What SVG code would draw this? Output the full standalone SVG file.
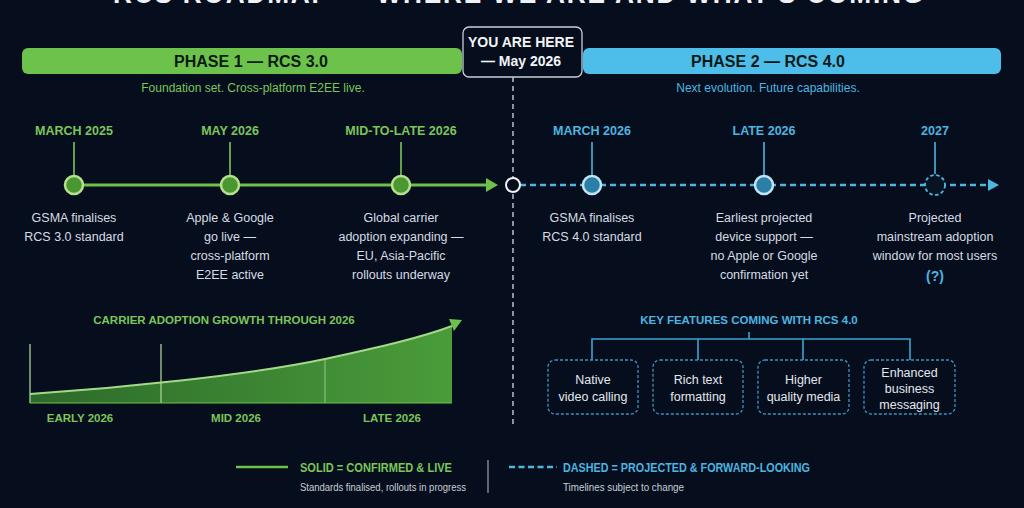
<svg xmlns="http://www.w3.org/2000/svg" width="1024" height="508" viewBox="0 0 1024 508">
  <defs>
    <linearGradient id="areaGrad" x1="0" y1="0" x2="1" y2="0">
      <stop offset="0" stop-color="#2c6a2a"/>
      <stop offset="1" stop-color="#4a9c3a"/>
    </linearGradient>
    <style>
      .title{font-family:"Liberation Sans",Arial,sans-serif;font-weight:bold;font-size:30px;fill:#eef2f6;letter-spacing:2px}
      .phase{font-family:"Liberation Sans",Arial,sans-serif;font-weight:bold;font-size:16px;fill:#0b1a14;text-anchor:middle}
      .sub{font-family:"Liberation Sans",Arial,sans-serif;font-size:12px;text-anchor:middle}
      .lbl{font-family:"Liberation Sans",Arial,sans-serif;font-weight:bold;font-size:12.5px;text-anchor:middle}
      .desc{font-family:"Liberation Sans",Arial,sans-serif;font-size:12.5px;fill:#d6dce3;text-anchor:middle}
      .here{font-family:"Liberation Sans",Arial,sans-serif;font-weight:bold;font-size:14px;fill:#f2f4f7;text-anchor:middle}
      .g{fill:#7cc55a}
      .b{fill:#4cb5e0}
      .small{font-family:"Liberation Sans",Arial,sans-serif;font-size:10px;fill:#c6ced7}
      .leg{font-family:"Liberation Sans",Arial,sans-serif;font-weight:bold;font-size:12px}
      .feat{font-family:"Liberation Sans",Arial,sans-serif;font-size:12.5px;fill:#e3e8ee;text-anchor:middle}
      .gnode{fill:#4a9630;stroke:#b5e08e;stroke-width:2.5}
      .bnode{fill:#2b7fa6;stroke:#bfe6f7;stroke-width:2.5}
      .gstem{stroke:#7cc55a;stroke-width:1.6}
      .bstem{stroke:#4cb5e0;stroke-width:1.6}
      .fbox{fill:none;stroke:#3a94bf;stroke-width:1.3;stroke-dasharray:3 2}
      .tree{stroke:#3fa3cf;stroke-width:1.6;fill:none}
    </style>
  </defs>

  <rect width="1024" height="508" fill="#060e1d"/>

  <!-- Title (cut off at top) -->
  <text class="title" x="113" y="3" textLength="812" lengthAdjust="spacingAndGlyphs">RCS ROADMAP — WHERE WE ARE AND WHAT'S COMING</text>

  <!-- Phase bars -->
  <g id="phase1">
    <rect x="22" y="48" width="440" height="26" rx="6" fill="#6dc24b"/>
    <text class="phase" x="251" y="67">PHASE 1 — RCS 3.0</text>
    <text class="sub g" x="253" y="92">Foundation set. Cross-platform E2EE live.</text>
  </g>
  <g id="phase2">
    <rect x="583" y="48" width="418" height="26" rx="6" fill="#4dbde9"/>
    <text class="phase" x="768" y="67">PHASE 2 — RCS 4.0</text>
    <text class="sub b" x="768" y="92">Next evolution. Future capabilities.</text>
  </g>

  <!-- Connectors -->
  <g id="connectors">
    <line x1="513" y1="77" x2="513" y2="428" stroke="#d8dde3" stroke-width="1.3" stroke-dasharray="5 4"/>
    <line x1="74" y1="185" x2="487" y2="185" stroke="#6dc24b" stroke-width="3"/>
    <polygon points="486,178 498,185 486,192" fill="#6dc24b"/>
    <line x1="520" y1="185" x2="989" y2="185" stroke="#4cb8e0" stroke-width="2.5" stroke-dasharray="6 4"/>
    <polygon points="988,179 999,185 988,191" fill="#4cb8e0"/>
    <line class="gstem" x1="74" y1="142" x2="74" y2="175"/>
    <line class="gstem" x1="230" y1="142" x2="230" y2="175"/>
    <line class="gstem" x1="401" y1="142" x2="401" y2="175"/>
    <line class="bstem" x1="592" y1="142" x2="592" y2="175"/>
    <line class="bstem" x1="764" y1="142" x2="764" y2="175"/>
    <line class="bstem" x1="935" y1="142" x2="935" y2="174"/>
    <path class="tree" d="M749,332 V339 M592,360 V339 H910 V360 M698,339 V360 M803,339 V360"/>
  </g>

  <!-- YOU ARE HERE -->
  <g id="you-are-here">
    <rect x="463" y="27" width="119" height="50" rx="6" fill="#060e1d" stroke="#c9cfd6" stroke-width="1.3"/>
    <text class="here" x="521" y="47">YOU ARE HERE</text>
    <text class="here" x="521" y="66">— May 2026</text>
    <circle cx="513" cy="185" r="7" fill="#060e1d" stroke="#f2f4f7" stroke-width="2"/>
  </g>

  <!-- Phase 1 milestones -->
  <g id="m-march-2025">
    <text class="lbl g" x="74" y="135">MARCH 2025</text>
    <circle class="gnode" cx="74" cy="185" r="9"/>
    <text class="desc" x="74" y="222">GSMA finalises</text>
    <text class="desc" x="74" y="241">RCS 3.0 standard</text>
  </g>
  <g id="m-may-2026">
    <text class="lbl g" x="230" y="135">MAY 2026</text>
    <circle class="gnode" cx="230" cy="185" r="9"/>
    <text class="desc" x="230" y="222">Apple &amp; Google</text>
    <text class="desc" x="230" y="241">go live —</text>
    <text class="desc" x="230" y="260">cross-platform</text>
    <text class="desc" x="230" y="279">E2EE active</text>
  </g>
  <g id="m-mid-late-2026">
    <text class="lbl g" x="401" y="135">MID-TO-LATE 2026</text>
    <circle class="gnode" cx="401" cy="185" r="9"/>
    <text class="desc" x="401" y="222">Global carrier</text>
    <text class="desc" x="401" y="241">adoption expanding —</text>
    <text class="desc" x="401" y="260">EU, Asia-Pacific</text>
    <text class="desc" x="401" y="279">rollouts underway</text>
  </g>

  <!-- Phase 2 milestones -->
  <g id="m-march-2026">
    <text class="lbl b" x="592" y="135">MARCH 2026</text>
    <circle class="bnode" cx="592" cy="185" r="9"/>
    <text class="desc" x="592" y="222">GSMA finalises</text>
    <text class="desc" x="592" y="241">RCS 4.0 standard</text>
  </g>
  <g id="m-late-2026">
    <text class="lbl b" x="764" y="135">LATE 2026</text>
    <circle class="bnode" cx="764" cy="185" r="9"/>
    <text class="desc" x="764" y="222">Earliest projected</text>
    <text class="desc" x="764" y="241">device support —</text>
    <text class="desc" x="764" y="260">no Apple or Google</text>
    <text class="desc" x="764" y="279">confirmation yet</text>
  </g>
  <g id="m-2027">
    <text class="lbl b" x="935" y="135">2027</text>
    <circle cx="935" cy="185" r="10" fill="#081424" stroke="#4cb8e0" stroke-width="1.8" stroke-dasharray="3.5 2.5"/>
    <text class="desc" x="935" y="222">Projected</text>
    <text class="desc" x="935" y="241">mainstream adoption</text>
    <text class="desc" x="935" y="260">window for most users</text>
    <text class="lbl b" x="935" y="281" style="font-size:14px">(?)</text>
  </g>

  <!-- Carrier adoption chart -->
  <g id="adoption-chart">
    <text class="lbl g" x="224" y="324" style="font-size:11.5px">CARRIER ADOPTION GROWTH THROUGH 2026</text>
    <path d="M30,394 C120,388 250,375 325,359 C380,347 420,338 452,327 V403 H30 Z" fill="url(#areaGrad)"/>
    <line x1="30" y1="344" x2="30" y2="403" stroke="#a9cf9a" stroke-width="1.3"/>
    <line x1="161" y1="344" x2="161" y2="403" stroke="#a9cf9a" stroke-width="1.3"/>
    <line x1="325" y1="359" x2="325" y2="403" stroke="#a9cf9a" stroke-width="1.1" opacity="0.8"/>
    <line x1="30" y1="403" x2="452" y2="403" stroke="#6dc24b" stroke-width="1.2"/>
    <path d="M30,394 C120,388 250,375 325,359 C380,347 420,338 452,326" fill="none" stroke="#a5d98a" stroke-width="2"/>
    <polygon points="449,319 462,320 454,331" fill="#6dc24b"/>
    <text class="lbl g" x="80" y="422" style="font-size:11.5px">EARLY 2026</text>
    <text class="lbl g" x="236" y="422" style="font-size:11.5px">MID 2026</text>
    <text class="lbl g" x="392" y="422" style="font-size:11.5px">LATE 2026</text>
  </g>

  <!-- Key features -->
  <g id="key-features-title">
    <text class="lbl b" x="749" y="324" style="font-size:11.5px">KEY FEATURES COMING WITH RCS 4.0</text>
  </g>
  <g id="f-video">
    <rect class="fbox" x="548" y="360" width="90" height="54" rx="7"/>
    <text class="feat" x="593" y="384">Native</text>
    <text class="feat" x="593" y="401">video calling</text>
  </g>
  <g id="f-richtext">
    <rect class="fbox" x="653" y="360" width="90" height="54" rx="7"/>
    <text class="feat" x="698" y="384">Rich text</text>
    <text class="feat" x="698" y="401">formatting</text>
  </g>
  <g id="f-media">
    <rect class="fbox" x="758" y="360" width="91" height="54" rx="7"/>
    <text class="feat" x="803.5" y="384">Higher</text>
    <text class="feat" x="803.5" y="401">quality media</text>
  </g>
  <g id="f-business">
    <rect class="fbox" x="864" y="360" width="91" height="54" rx="7"/>
    <text class="feat" x="909.5" y="377">Enhanced</text>
    <text class="feat" x="909.5" y="393">business</text>
    <text class="feat" x="909.5" y="409">messaging</text>
  </g>

  <!-- Legend -->
  <g id="legend">
    <line x1="236" y1="467" x2="288" y2="467" stroke="#6dc24b" stroke-width="2.5"/>
    <text class="leg g" x="300" y="472" textLength="152" lengthAdjust="spacingAndGlyphs">SOLID = CONFIRMED &amp; LIVE</text>
    <text class="small" x="300" y="491" textLength="166" lengthAdjust="spacingAndGlyphs">Standards finalised, rollouts in progress</text>
    <line x1="488" y1="460" x2="488" y2="493" stroke="#9aa3ad" stroke-width="1.2"/>
    <line x1="509" y1="467" x2="557" y2="467" stroke="#4cb8e0" stroke-width="2.5" stroke-dasharray="6 3.5"/>
    <text class="leg b" x="563" y="472" textLength="247" lengthAdjust="spacingAndGlyphs">DASHED = PROJECTED &amp; FORWARD-LOOKING</text>
    <text class="small" x="563" y="491" textLength="121" lengthAdjust="spacingAndGlyphs">Timelines subject to change</text>
  </g>
</svg>
